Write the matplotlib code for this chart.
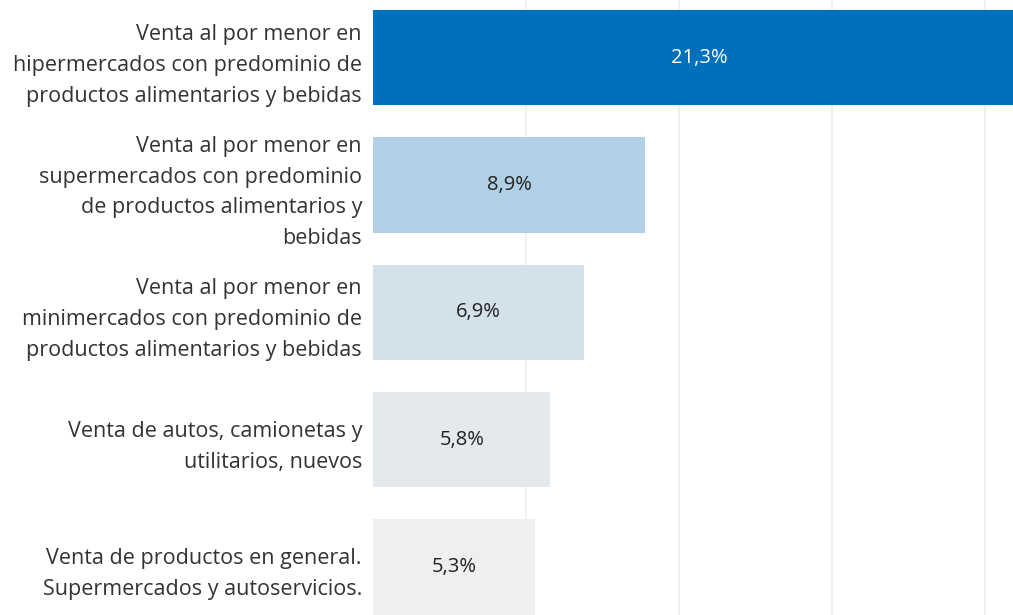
import matplotlib.pyplot as plt

# datos
categorias = [
    "Venta al por menor en\nhipermercados con predominio de\nproductos alimentarios y bebidas",
    "Venta al por menor en\nsupermercados con predominio\nde productos alimentarios y\nbebidas",
    "Venta al por menor en\nminimercados con predominio de\nproductos alimentarios y bebidas",
    "Venta de autos, camionetas y\nutilitarios, nuevos",
    "Venta de productos en general.\nSupermercados y autoservicios.",
]
valores = [21.3, 8.9, 6.9, 5.8, 5.3]
etiquetas = ["21,3%", "8,9%", "6,9%", "5,8%", "5,3%"]
colores = ["#0070BD", "#B0D1E5", "#D3E1EA", "#E4E9EC", "#EFEFEF"]
colores_texto = ["white", "#222222", "#222222", "#222222", "#222222"]

plt.rcParams['font.family'] = ['Open Sans', 'DejaVu Sans']

fig = plt.figure(figsize=(10.13, 6.15), dpi=100)
ax = fig.add_axes([373 / 1013, 0, 1 - 373 / 1013, 1])

pos = list(range(len(valores)))
ax.barh(pos, valores, height=0.75, color=colores, zorder=2)

ax.set_xlim(0, 640 / 30.6)
ax.set_ylim(4.377, -0.453)
ax.set_xticks([5, 10, 15, 20])
ax.xaxis.grid(True, color="#EEEEEE", linewidth=1.2, zorder=0)
ax.tick_params(axis='x', length=0, labelbottom=False)

ax.set_yticks(pos)
ax.set_yticklabels(categorias, fontsize=15.5, color="#333333", linespacing=1.62, ma='right')
ax.tick_params(axis='y', length=0, pad=8)

for s in ax.spines.values():
    s.set_visible(False)

# etiquetas de valor
for i, v in enumerate(valores):
    ax.text(v / 2, i, etiquetas[i], ha='center', va='center', fontsize=14.5,
            color=colores_texto[i], zorder=3, clip_on=False)

plt.savefig("out.png", dpi=100)
